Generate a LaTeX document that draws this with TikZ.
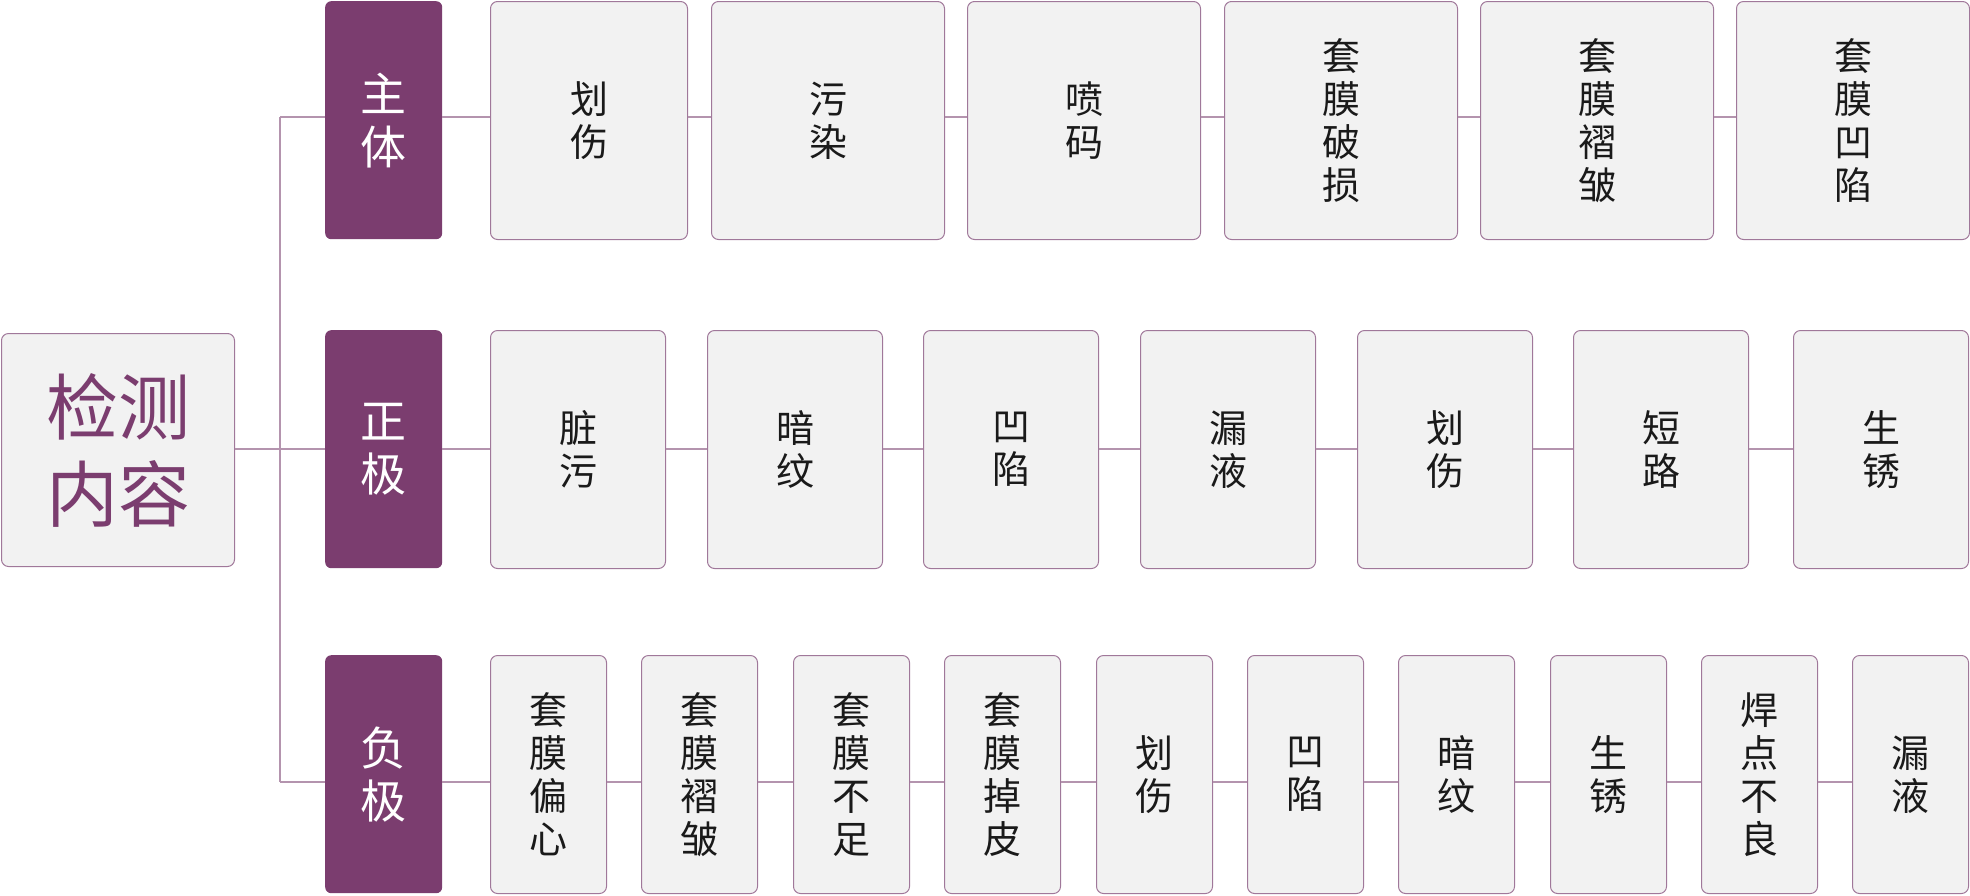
\documentclass[tikz,border=0pt]{standalone}
\usepackage{fontspec}
\setmainfont{Noto Sans CJK SC}
\definecolor{catpurple}{HTML}{7B3D6F}
\definecolor{boxfill}{HTML}{F2F2F2}
\definecolor{boxline}{HTML}{A0789A}
\definecolor{connline}{HTML}{B494AE}
\definecolor{childtext}{HTML}{1A1A1A}
\tikzset{
  rootbox/.style={draw=boxline, fill=boxfill, rounded corners=7pt, line width=1pt, inner sep=0pt,
    anchor=north west, align=center, text=catpurple, font=\fontsize{72}{87}\selectfont},
  catbox/.style={fill=catpurple, rounded corners=6pt, inner sep=0pt, anchor=north west,
    minimum width=117pt, align=center, text=white, font=\fontsize{46}{53}\selectfont},
  childbox/.style={draw=boxline, fill=boxfill, rounded corners=7pt, line width=1pt, inner sep=0pt,
    anchor=north west, align=center, text=childtext, font=\fontsize{38}{43}\selectfont},
  conn/.style={draw=connline, line width=1.3pt},
}
\begin{document}
\begin{tikzpicture}[x=1pt,y=-1pt]
\useasboundingbox (0,0) rectangle (1970,895);
% root
\node[rootbox, minimum width=233pt, minimum height=233pt] (root) at (1,333) {检测\\内容};
% category boxes
\node[catbox, minimum height=238pt] (cA) at (325,1) {主\\体};
\node[catbox, minimum height=238pt] (cB) at (325,330) {正\\极};
\node[catbox, minimum height=238pt] (cC) at (325,655) {负\\极};
% connector levels
\coordinate (tA) at (280,117);
\coordinate (tB) at (280,449);
\coordinate (tC) at (280,782);
% row 1
\node[childbox, minimum width=197pt, minimum height=238pt] (a1) at (490,1) {划\\伤};
\node[childbox, minimum width=233pt, minimum height=238pt] (a2) at (711,1) {污\\染};
\node[childbox, minimum width=233pt, minimum height=238pt] (a3) at (967,1) {喷\\码};
\node[childbox, minimum width=233pt, minimum height=238pt] (a4) at (1224,1) {套\\膜\\破\\损};
\node[childbox, minimum width=233pt, minimum height=238pt] (a5) at (1480,1) {套\\膜\\褶\\皱};
\node[childbox, minimum width=233pt, minimum height=238pt] (a6) at (1736,1) {套\\膜\\凹\\陷};
% row 2
\node[childbox, minimum width=175pt, minimum height=238pt] (b1) at (490,330) {脏\\污};
\node[childbox, minimum width=175pt, minimum height=238pt] (b2) at (707,330) {暗\\纹};
\node[childbox, minimum width=175pt, minimum height=238pt] (b3) at (923,330) {凹\\陷};
\node[childbox, minimum width=175pt, minimum height=238pt] (b4) at (1140,330) {漏\\液};
\node[childbox, minimum width=175pt, minimum height=238pt] (b5) at (1357,330) {划\\伤};
\node[childbox, minimum width=175pt, minimum height=238pt] (b6) at (1573,330) {短\\路};
\node[childbox, minimum width=175pt, minimum height=238pt] (b7) at (1793,330) {生\\锈};
% row 3
\node[childbox, minimum width=116pt, minimum height=238pt] (d1) at (490,655) {套\\膜\\偏\\心};
\node[childbox, minimum width=116pt, minimum height=238pt] (d2) at (641,655) {套\\膜\\褶\\皱};
\node[childbox, minimum width=116pt, minimum height=238pt] (d3) at (793,655) {套\\膜\\不\\足};
\node[childbox, minimum width=116pt, minimum height=238pt] (d4) at (944,655) {套\\膜\\掉\\皮};
\node[childbox, minimum width=116pt, minimum height=238pt] (d5) at (1096,655) {划\\伤};
\node[childbox, minimum width=116pt, minimum height=238pt] (d6) at (1247,655) {凹\\陷};
\node[childbox, minimum width=116pt, minimum height=238pt] (d7) at (1398,655) {暗\\纹};
\node[childbox, minimum width=116pt, minimum height=238pt] (d8) at (1550,655) {生\\锈};
\node[childbox, minimum width=116pt, minimum height=238pt] (d9) at (1701,655) {焊\\点\\不\\良};
\node[childbox, minimum width=116pt, minimum height=238pt] (d10) at (1852,655) {漏\\液};
% connectors
\draw[conn] (root.east |- tB) -- (cB.west |- tB);
\draw[conn] (tA) -- (tC);
\draw[conn] (tA) -- (cA.west |- tA);
\draw[conn] (tC) -- (cC.west |- tC);
\draw[conn] (cA.east |- tA) -- (a1.west |- tA);
\foreach \p/\q in {a1/a2,a2/a3,a3/a4,a4/a5,a5/a6}{
  \draw[conn] (\p.east |- tA) -- (\q.west |- tA);
}
\draw[conn] (cB.east |- tB) -- (b1.west |- tB);
\foreach \p/\q in {b1/b2,b2/b3,b3/b4,b4/b5,b5/b6,b6/b7}{
  \draw[conn] (\p.east |- tB) -- (\q.west |- tB);
}
\draw[conn] (cC.east |- tC) -- (d1.west |- tC);
\foreach \p/\q in {d1/d2,d2/d3,d3/d4,d4/d5,d5/d6,d6/d7,d7/d8,d8/d9,d9/d10}{
  \draw[conn] (\p.east |- tC) -- (\q.west |- tC);
}
\end{tikzpicture}
\end{document}
